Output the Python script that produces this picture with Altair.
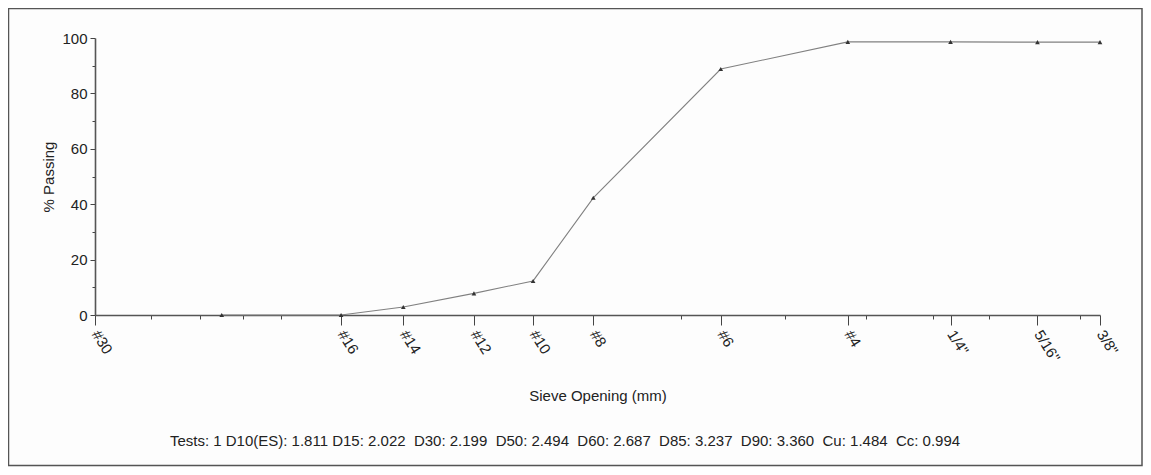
import altair as alt
import pandas as pd

# Data
sieve_mm = [0.85, 1.18, 1.4, 1.7, 2.0, 2.36, 3.35, 4.75, 6.3, 8.0, 9.5]
pct_passing = [0, 0, 2.9, 7.8, 12.3, 42.3, 88.8, 98.6, 98.6, 98.5, 98.5]

major_ticks = [0.6, 1.18, 1.4, 1.7, 2.0, 2.36, 3.35, 4.75, 6.3, 8.0, 9.5]
major_labels = ["#30", "#16", "#14", "#12", "#10", "#8", "#6", "#4", '1/4"', '5/16"', '3/8"']
minor_ticks = [0.7, 0.8, 0.9, 1.0, 3.0, 4.0, 5.0, 6.0, 7.0, 9.0]
y_ticks = [0, 10, 20, 30, 40, 50, 60, 70, 80, 90, 100]

SP = "\u00a0 "
footer = ("Tests: 1 D10(ES): 1.811 D15: 2.022" + SP + "D30: 2.199" + SP + "D50: 2.494" + SP +
          "D60: 2.687" + SP + "D85: 3.237" + SP + "D90: 3.360" + SP + "Cu: 1.484" + SP + "Cc: 0.994")

FONT = "Liberation Sans Narrow, Arial Narrow, Liberation Sans, Arial, sans-serif"
W, H = 1005, 277

df = pd.DataFrame({"size": sieve_mm, "pct": pct_passing})
foot_df = pd.DataFrame({"t": [footer]})

label_expr = ""
for v, lab in zip(major_ticks, major_labels):
    label_expr += f"datum.value == {v} ? '{lab}' : "
label_expr += "''"
major_list = "[" + ",".join(str(v) for v in major_ticks) + "]"

x_scale = alt.Scale(type="log", domain=[0.6, 9.5], nice=False)
y_scale = alt.Scale(domain=[0, 100], nice=False)

x_axis = alt.Axis(
    values=sorted(major_ticks + minor_ticks),
    labelExpr=label_expr,
    labelAngle=58,
    labelAlign="left",
    labelBaseline="middle",
    labelOverlap=False,
    labelFlush=False,
    labelBound=False,
    labelPadding=6,
    labelFont=FONT,
    labelFontSize=15,
    labelColor="#222",
    tickSize={"condition": {"test": f"indexof({major_list}, datum.value) >= 0", "value": 10}, "value": 4},
    tickColor="#444",
    domainColor="#555",
    domainWidth=1.6,
    grid=False,
    title="Sieve Opening (mm)",
    titleFont=FONT,
    titleFontSize=15,
    titleFontWeight="normal",
    titleColor="#222",
    titleX=W / 2,
    titleY=80,
    titleBaseline="middle",
    titleAlign="center",
)

y_axis = alt.Axis(
    values=y_ticks,
    labelExpr="datum.value % 20 == 0 ? datum.label : ''",
    labelFont=FONT,
    labelFontSize=15,
    labelColor="#222",
    labelPadding=3,
    tickSize={"condition": {"test": "datum.value % 20 == 0", "value": 5}, "value": 3},
    tickColor="#444",
    domainColor="#555",
    domainWidth=1.6,
    grid=False,
    title="% Passing",
    titleFont=FONT,
    titleFontSize=15,
    titleFontWeight="normal",
    titleColor="#222",
    titleX=-47,
    titleY=H / 2,
    titleAlign="center",
    titleBaseline="middle",
)

base = alt.Chart(df).encode(
    x=alt.X("size:Q", scale=x_scale, axis=x_axis),
    y=alt.Y("pct:Q", scale=y_scale, axis=y_axis),
)

line = base.mark_line(color="#808080", strokeWidth=1.1)
pts = base.mark_point(shape="triangle-up", filled=True, size=22, color="#333", opacity=1)

frame = alt.Chart(foot_df).mark_rect(fillOpacity=0, stroke="#555", strokeWidth=1.5).encode(
    x=alt.value(-86.5), x2=alt.value(W + 42), y=alt.value(-29.5), y2=alt.value(H + 150.5)
)

foot = alt.Chart(foot_df).mark_text(font=FONT, fontSize=15, color="#222", align="center", baseline="middle").encode(
    text="t:N", x=alt.value(470), y=alt.value(403)
)

chart = alt.layer(line, pts, frame, foot).properties(
    width=W, height=H,
    autosize=alt.AutoSizeParams(type="none"),
    padding={"left": 87, "top": 30, "right": 43, "bottom": 152},
    background="#fdfdfd",
).configure_view(stroke=None)

chart.save("out.html", embed_options={"renderer": "svg", "actions": False})
